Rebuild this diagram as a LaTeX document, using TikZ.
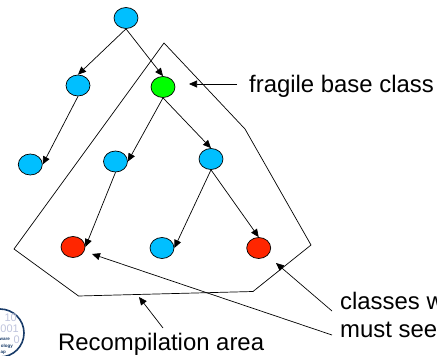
\documentclass[tikz,border=0pt]{standalone}
\usepackage{fontspec}
\setmainfont{Liberation Sans}
\definecolor{cyanb}{RGB}{0,191,255}
\definecolor{greenb}{RGB}{0,255,0}
\definecolor{redb}{RGB}{255,38,0}
\definecolor{logob}{RGB}{25,60,105}
\definecolor{logod}{RGB}{190,195,220}
\usetikzlibrary{arrows.meta,shapes.geometric}
\tikzset{
  cls/.style={ellipse,draw=black,line width=0.7pt,minimum width=24pt,minimum height=21pt,inner sep=0pt},
  conn/.style={draw=black,line width=0.7pt,-{Triangle[length=8pt,width=7pt]}},
  lab/.style={font=\fontsize{23.9}{27}\selectfont,inner sep=0pt,anchor=base west},
  bits/.style={font=\fontsize{11}{11}\selectfont,text=logod,inner sep=0pt,anchor=east},
  tiny/.style={font=\fontsize{4.5}{4.5}\selectfont\bfseries,text=logob,inner sep=0pt,anchor=east},
}
\begin{document}
\begin{tikzpicture}[x=1pt,y=-1pt]
\useasboundingbox (0,0) rectangle (437,356);
\clip (0,0) rectangle (437,356);
\node[cls,fill=cyanb] (a) at (126,18) {};
\node[cls,fill=cyanb] (b) at (78,85.5) {};
\node[cls,fill=greenb] (c) at (163,87) {};
\node[cls,fill=cyanb] (d) at (30.3,164.5) {};
\node[cls,fill=cyanb] (e) at (115.5,161.5) {};
\node[cls,fill=cyanb] (f) at (211,159) {};
\node[cls,fill=redb] (g) at (73,247) {};
\node[cls,fill=cyanb] (h) at (162,248) {};
\node[cls,fill=redb] (i) at (258.7,248) {};
\draw[conn] (a.south) -- (b.north);
\draw[conn] (a.south) -- (c.north);
\draw[conn] (b.south) -- (d.east);
\draw[conn] (c.south) -- (e.east);
\draw[conn] (c.south) -- (f.north);
\draw[conn] (e.south) -- (g.east);
\draw[conn] (f.south) -- (h.east);
\draw[conn] (f.south) -- (i.north);
\draw[line width=0.7pt,line join=miter] (164,43) -- (245,129) -- (311,245) -- (253,291.5) -- (78.5,296) -- (14,249) -- cycle;
\node[lab] (t1) at (249,92.5) {fragile base class};
\node[lab] (t2) at (340,309) {classes w};
\node[lab] (t3) at (340,337) {must see};
\node[lab] (t4) at (58,350) {Recompilation area};
\coordinate (p1) at (189,84);
\coordinate (p2) at (276,263);
\coordinate (p3) at (92,254);
\coordinate (p4) at (139,297);
\coordinate (s1) at (237,84);
\coordinate (s2) at (332,311);
\coordinate (s3) at (332,335);
\coordinate (s4) at (163,328);
\draw[conn] (s1) -- (p1);
\draw[conn] (s2) -- (p2);
\draw[conn] (s3) -- (p3);
\draw[conn] (s4) -- (p4);
\node[circle,draw=logob,line width=1.6pt,minimum size=48pt,inner sep=0pt] (logo) at (0,333) {};
\node[bits] (l1) at (17,318) {10};
\node[bits] (l2) at (19,329) {001};
\node[bits] (l0) at (20,340) {0};
\node[tiny] (l3) at (10,339) {ware};
\node[tiny] (l4) at (13,346) {ology};
\node[tiny] (l5) at (6,353) {ap};
\end{tikzpicture}
\end{document}
